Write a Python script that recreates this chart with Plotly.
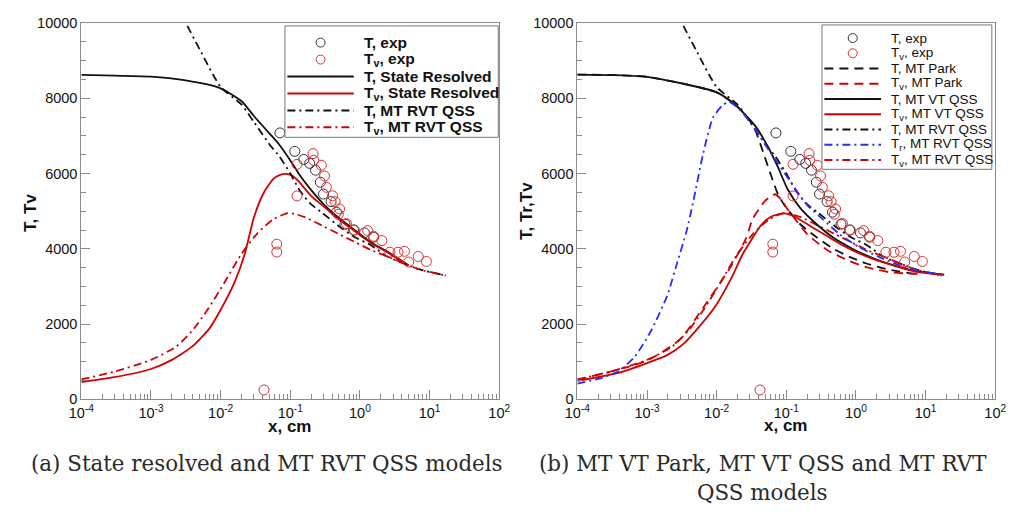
import plotly.graph_objects as go

# ---------------- experimental points (shown in both panels) ----------------
x_T_exp = [0.071, 0.116, 0.156, 0.19, 0.23, 0.27, 0.30, 0.385, 0.46, 0.61, 0.81, 1.16, 1.57]
T_exp = [7080, 6590, 6375, 6270, 6090, 5770, 5455, 5255, 4975, 4655, 4500, 4425, 4310]

x_Tv_exp = [0.042, 0.064, 0.064, 0.125, 0.125, 0.212, 0.217, 0.279, 0.31, 0.33, 0.405, 0.44,
            0.51, 0.49, 0.64, 0.83, 1.29, 1.57, 2.06, 2.69, 3.52, 4.36, 5.0, 6.87, 8.98]
Tv_exp = [250, 4125, 3915, 6245, 5405, 6530, 6350, 6220, 5935, 5635, 5410, 5250,
          5060, 4920, 4670, 4500, 4485, 4335, 4220, 3910, 3910, 3935, 3650, 3795, 3665]

# ---------------- state resolved model ----------------
x_T_sr = [1e-4, 3e-4, 1e-3, 3e-3, 0.01, 0.02, 0.03, 0.05, 0.07, 0.1, 0.14, 0.2, 0.3, 0.5,
          0.8, 1.4, 2.5, 4.9]
T_sr = [8620, 8600, 8575, 8480, 8265, 7920, 7530, 7070, 6760, 6350, 5930, 5560, 5190, 4820,
        4530, 4190, 3920, 3570]

x_Tv_sr = [1e-4, 3e-4, 1e-3, 2e-3, 4e-3, 7e-3, 0.01, 0.016, 0.022, 0.03, 0.041, 0.057, 0.07,
           0.088, 0.11, 0.135, 0.2, 0.3, 0.5, 0.8, 1.4, 2.5, 4.9]
Tv_sr = [460, 590, 807, 1050, 1420, 1900, 2380, 3130, 3840, 4830, 5470, 5860, 5960,
         5990, 5930, 5770, 5400, 5130, 4780, 4500, 4170, 3900, 3560]

# ---------------- MT RVT QSS model ----------------
x_T_rvt = [0.0025, 0.00316, 0.005, 0.01, 0.02, 0.03, 0.04, 0.05, 0.07, 0.1, 0.14, 0.2, 0.29,
           0.49, 0.84, 1.44, 2.47, 7.2, 17]
T_rvt = [10340, 10000, 9300, 8300, 7830, 7370, 7040, 6780, 6450, 6000, 5520, 5180, 4950,
         4613, 4312, 4097, 3796, 3453, 3290]

x_Tv_rvt = [1e-4, 3e-4, 1e-3, 2.26e-3, 3.9e-3, 6.7e-3, 0.0114, 0.0195, 0.0333, 0.057, 0.093,
            0.125, 0.168, 0.29, 0.49, 0.84, 1.44, 2.47, 7.2, 17]
Tv_rvt = [530, 740, 1050, 1392, 1822, 2422, 3110, 3840, 4400, 4785, 4950,
          4910, 4828, 4613, 4398, 4183, 3968, 3796, 3453, 3290]

x_Tr_rvt = [1e-4, 2.26e-4, 3.9e-4, 6.65e-4, 1.14e-3, 1.95e-3, 2.7e-3, 3.7e-3, 4.6e-3, 6.4e-3,
            8.8e-3, 0.0122, 0.015, 0.0207, 0.032, 0.049, 0.0755, 0.094, 0.2, 0.34, 0.58,
            1.11, 2.13, 4.06, 8.6, 18.3]
Tr_rvt = [420, 574, 746, 1131, 1818, 2759, 3617, 4474, 5245, 6530,
          7474, 7816, 7901, 7731, 7302, 6788, 6273, 6016, 5160, 4774, 4389,
          4044, 3787, 3574, 3401, 3316]

# ---------------- MT VT QSS model ----------------
x_T_vt = [1e-4, 1e-3, 0.01, 0.0188, 0.036, 0.055, 0.075, 0.104, 0.16, 0.275, 0.47, 0.81,
          1.38, 2.37, 4.06, 7.74, 18.5]
T_vt = [8630, 8570, 8158, 7816, 7260, 6700, 6190, 5590, 5073, 4646, 4301, 4044,
        3831, 3659, 3530, 3401, 3316]

x_Tv_vt = [1e-4, 3.9e-4, 1.14e-3, 1.95e-3, 3.34e-3, 5.7e-3, 9.8e-3, 0.0168, 0.0232, 0.0442,
           0.061, 0.094, 0.13, 0.222, 0.38, 0.65, 0.9, 1.5, 3, 5, 8, 18]
Tv_vt = [489, 703, 1003, 1175, 1474, 1946, 2502, 3273, 3831, 4646,
         4859, 4944, 4859, 4602, 4345, 4088, 3959, 3780, 3590, 3470, 3380, 3310]

# ---------------- MT Park model ----------------
x_T_park = [1e-4, 1e-3, 0.01, 0.0188, 0.028, 0.0356, 0.049, 0.061, 0.0755, 0.094, 0.16,
            0.275, 0.47, 0.81, 1.38, 2.37, 4.06, 6.2, 8.5]
T_park = [8630, 8570, 8158, 7816, 7480, 7170, 6440, 5930, 5460, 5160, 4646,
          4301, 4003, 3787, 3617, 3489, 3401, 3350, 3335]

x_Tv_park = [1e-4, 1e-3, 3e-3, 5.7e-3, 0.015, 0.026, 0.033, 0.05, 0.069, 0.085, 0.1, 0.13,
             0.2, 0.4, 0.8, 1.5, 3, 6, 8.5]
Tv_park = [520, 1030, 1600, 2300, 3450, 4250, 4800, 5280, 5450, 5300, 5100, 4820,
           4390, 3950, 3680, 3500, 3380, 3340, 3330]

# ---------------- ticks, axis and caption text ----------------
x_tickvals = [1e-4, 1e-3, 1e-2, 1e-1, 1, 10, 100]
x_ticktext = ["10<sup>-4</sup>", "10<sup>-3</sup>", "10<sup>-2</sup>", "10<sup>-1</sup>",
              "10<sup>0</sup>", "10<sup>1</sup>", "10<sup>2</sup>"]
y_tickvals = [0, 2000, 4000, 6000, 8000, 10000]
y_titles = ["T, Tv", "T, Tr,Tv"]
x_title = "x, cm"
caption_a = "(a) State resolved and MT RVT QSS models"
caption_b = ["(b) MT VT Park, MT VT QSS and MT RVT", "QSS models"]

W, H = 1017, 512
BLACK = "#111111"
RED = "#d40000"
BLUE = "#2b2bff"
GREY = "#8a8a8a"
DASHDOT = "8px,4px,2px,4px"
DASHED = "9px,6px"
LW = 1.8


def px(x):
    return x / W


def py(y):
    return 1 - y / H


fig = go.Figure()


def line(x, y, color, dash, axis):
    fig.add_trace(go.Scatter(
        x=x, y=y, mode="lines", xaxis="x" + axis, yaxis="y" + axis,
        line=dict(color=color, width=LW, dash=dash, shape="spline", smoothing=0.6),
        showlegend=False, hoverinfo="skip"))


def points(x, y, color, axis):
    fig.add_trace(go.Scatter(
        x=x, y=y, mode="markers", xaxis="x" + axis, yaxis="y" + axis,
        marker=dict(symbol="circle-open", size=10, color=color, line=dict(width=1, color=color)),
        showlegend=False, hoverinfo="skip"))


# panel (a)
line(x_T_sr, T_sr, BLACK, "solid", "")
line(x_Tv_sr, Tv_sr, RED, "solid", "")
line(x_T_rvt, T_rvt, BLACK, DASHDOT, "")
line(x_Tv_rvt, Tv_rvt, RED, DASHDOT, "")
points(x_T_exp, T_exp, "#333333", "")
points(x_Tv_exp, Tv_exp, "#e03030", "")

# panel (b)
line(x_T_park, T_park, BLACK, DASHED, "2")
line(x_Tv_park, Tv_park, RED, DASHED, "2")
line(x_T_rvt, T_rvt, BLACK, DASHDOT, "2")
line(x_Tv_rvt, Tv_rvt, RED, DASHDOT, "2")
line(x_T_vt, T_vt, BLACK, "solid", "2")
line(x_Tv_vt, Tv_vt, RED, "solid", "2")
line(x_Tr_rvt, Tr_rvt, BLUE, DASHDOT, "2")
points(x_T_exp, T_exp, "#333333", "2")
points(x_Tv_exp, Tv_exp, "#e03030", "2")

tickfont = dict(family="Liberation Sans, Arial, sans-serif", size=14.5, color="#111111")


def xaxis(domain, anchor):
    return dict(domain=domain, anchor=anchor, type="log", range=[-4, 2],
                tickmode="array", tickvals=x_tickvals, ticktext=x_ticktext,
                ticks="inside", ticklen=9, tickwidth=1, tickcolor=GREY,
                showline=True, linecolor=GREY, linewidth=1, mirror=True,
                showgrid=False, zeroline=False, tickfont=tickfont,
                minor=dict(ticks="inside", ticklen=5, tickcolor=GREY, dtick="D1", showgrid=False))


def yaxis(domain, anchor):
    return dict(domain=domain, anchor=anchor, range=[0, 10000],
                tickmode="array", tickvals=y_tickvals, ticktext=[str(v) for v in y_tickvals],
                ticks="inside", ticklen=9, tickwidth=1, tickcolor=GREY,
                showline=True, linecolor=GREY, linewidth=1, mirror=True,
                showgrid=False, zeroline=False, tickfont=tickfont,
                minor=dict(ticks="inside", ticklen=5, tickcolor=GREY, tick0=0, dtick=500,
                           showgrid=False))


ydom = [py(404), py(15.5)]
fig.update_layout(
    width=W, height=H, margin=dict(l=0, r=0, t=0, b=0),
    paper_bgcolor="white", plot_bgcolor="white",
    xaxis=xaxis([px(70), px(498)], "y"),
    yaxis=yaxis(ydom, "x"),
    xaxis2=xaxis([px(578), px(1006)], "y2"),
    yaxis2=yaxis(ydom, "x2"),
)

shapes = []
annotations = []

# legends drawn as boxed keys
legend_a = [
    ("T, exp", "marker", "#333333", None),
    ("T<sub>v</sub>, exp", "marker", "#e03030", None),
    ("T, State Resolved", "line", BLACK, "solid"),
    ("T<sub>v</sub>, State Resolved", "line", RED, "solid"),
    ("T, MT RVT QSS", "line", BLACK, DASHDOT),
    ("T<sub>v</sub>, MT RVT QSS", "line", RED, DASHDOT),
]
legend_b = [
    ("T, exp", "marker", "#333333", None),
    ("T<sub>v</sub>, exp", "marker", "#e03030", None),
    ("T, MT Park", "line", BLACK, DASHED),
    ("T<sub>v</sub>, MT Park", "line", RED, DASHED),
    ("T, MT VT QSS", "line", BLACK, "solid"),
    ("T<sub>v</sub>, MT VT QSS", "line", RED, "solid"),
    ("T, MT RVT QSS", "line", BLACK, DASHDOT),
    ("T<sub>r</sub>, MT RVT QSS", "line", BLUE, DASHDOT),
    ("T<sub>v</sub>, MT RVT QSS", "line", RED, DASHDOT),
]


def draw_legend(entries, box, y0, dy, x_line, x_text, font):
    bx0, by0, bx1, by1 = box
    shapes.append(dict(type="rect", xref="paper", yref="paper",
                       x0=px(bx0), x1=px(bx1), y0=py(by1), y1=py(by0),
                       line=dict(color="#777777", width=1), fillcolor="white", layer="above"))
    for i, (label, kind, color, dash) in enumerate(entries):
        yy = y0 + i * dy
        if kind == "marker":
            cx = (x_line[0] + x_line[1]) / 2
            shapes.append(dict(type="circle", xref="paper", yref="paper",
                               xsizemode="pixel", ysizemode="pixel",
                               xanchor=px(cx), yanchor=py(yy),
                               x0=-4.5, x1=4.5, y0=-4.5, y1=4.5,
                               line=dict(color=color, width=1), layer="above"))
        else:
            shapes.append(dict(type="line", xref="paper", yref="paper",
                               x0=px(x_line[0]), x1=px(x_line[1]), y0=py(yy), y1=py(yy),
                               line=dict(color=color, width=LW + 0.2, dash=dash), layer="above"))
        annotations.append(dict(text=label, xref="paper", yref="paper",
                                x=px(x_text), y=py(yy), xanchor="left", yanchor="middle",
                                showarrow=False, font=font))


draw_legend(legend_a, (278.5, 18.5, 497, 133.5), 35.7, 17.5, (281, 349), 357,
            dict(family="Liberation Sans, Arial, sans-serif", size=15.5, color="#111111",
                 weight="bold"))
draw_legend(legend_b, (828.5, 17.5, 1002.5, 166.5), 31.0, 15.75, (831, 889), 897.5,
            dict(family="Liberation Sans, Arial, sans-serif", size=13.5, color="#111111"))

title_font = dict(family="Liberation Sans, Arial, sans-serif", size=17, color="#111111",
                  weight="bold")
annotations += [
    dict(text=y_titles[0], xref="paper", yref="paper", x=px(18), y=py(212), textangle=-90,
         showarrow=False, font=title_font, xanchor="center", yanchor="middle"),
    dict(text=y_titles[1], xref="paper", yref="paper", x=px(526), y=py(210), textangle=-90,
         showarrow=False, font=title_font, xanchor="center", yanchor="middle"),
    dict(text=x_title, xref="paper", yref="paper", x=px(283), y=py(432),
         showarrow=False, font=title_font, xanchor="center", yanchor="middle"),
    dict(text=x_title, xref="paper", yref="paper", x=px(791), y=py(431),
         showarrow=False, font=title_font, xanchor="center", yanchor="middle"),
]

cap_font = dict(family="DejaVu Serif, serif", size=21.4, color="#2a2a2a")
annotations += [
    dict(text=caption_a, xref="paper", yref="paper", x=px(260), y=py(470),
         showarrow=False, font=cap_font, xanchor="center", yanchor="middle"),
    dict(text=caption_b[0], xref="paper", yref="paper", x=px(768), y=py(470),
         showarrow=False, font=cap_font, xanchor="center", yanchor="middle"),
    dict(text=caption_b[1], xref="paper", yref="paper", x=px(768), y=py(500),
         showarrow=False, font=cap_font, xanchor="center", yanchor="middle"),
]

fig.update_layout(shapes=shapes, annotations=annotations)

# the page body keeps no default margin so the figure fills the window exactly
fig.write_html(
    "out.html",
    post_script="document.body.style.margin='0';document.body.style.overflow='hidden';",
)
